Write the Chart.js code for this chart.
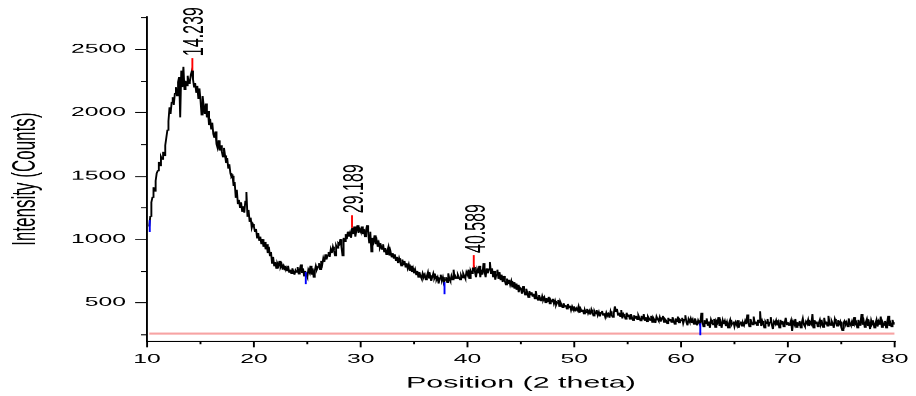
<!DOCTYPE html>
<html>
<head>
<meta charset="utf-8">
<script src="https://cdn.jsdelivr.net/npm/chart.js@4.4.0/dist/chart.umd.min.js"></script>
<style>
  html, body { margin: 0; padding: 0; background: #fff; overflow: hidden; }
  #xrd { display: block; width: 916px; height: 396px; }
</style>
</head>
<body>
<canvas id="xrd" width="482" height="396" style="width:916px;height:396px"></canvas>
<script>
// scan: 2theta from 10.2 to 80.0, step 0.1 deg
const scanStart = 10.2;
const scanStep = 0.1;

// counts, one row per degree
const intensityCounts = [
  1100, 1180, 1290, 1330, 1410, 1380, 1460, 1520,
  1540, 1610, 1580, 1650, 1630, 1690, 1660, 1740, 1800, 1860,
  1930, 2040, 1990, 2080, 2120, 2060, 2150, 2200, 2130, 2240,
  2280, 1960, 2330, 2200, 2360, 2180, 2250, 2210, 2290, 2230,
  2240, 2300, 2330, 2260, 2200, 2230, 2160, 2210, 2110, 2190,
  2100, 1980, 2130, 2050, 1990, 2070, 1960, 2010, 1900, 1950,
  1870, 1920, 1830, 1800, 1850, 1750, 1720, 1780, 1700, 1740,
  1690, 1650, 1720, 1660, 1600, 1640, 1560, 1590, 1520, 1490,
  1500, 1420, 1450, 1330, 1390, 1280, 1310, 1250, 1290, 1220,
  1260, 1210, 1300, 1370, 1180, 1230, 1140, 1170, 1090, 1120,
  1100, 1060, 1080, 1010, 1050, 990, 1020, 960, 1000, 940,
  980, 920, 960, 890, 940, 870, 900, 810, 860, 790,
  820, 770, 810, 790, 830, 780, 800, 760, 790, 770,
  780, 750, 790, 740, 760, 730, 770, 745, 720, 755,
  740, 780, 725, 760, 800, 735, 770, 710, 750, 720,
  700, 760, 740, 790, 720, 770, 700, 750, 790, 760,
  780, 810, 760, 830, 800, 850, 820, 880, 840, 870,
  900, 860, 920, 890, 940, 910, 870, 950, 930, 970,
  960, 1000, 940, 870, 1010, 980, 1040, 1000, 1060, 1020,
  1050, 1010, 1090, 1040, 1100, 1020, 1070, 1110, 1050, 1080,
  1060, 1100, 1040, 1080, 1020, 1070, 1110, 1050, 970, 1060,
  900, 1010, 980, 1030, 960, 990, 940, 970, 930, 950,
  920, 960, 900, 930, 880, 910, 940, 870, 900, 860,
  890, 850, 880, 830, 860, 810, 850, 820, 790, 840,
  800, 830, 780, 810, 770, 800, 750, 790, 740, 770,
  730, 760, 720, 750, 700, 740, 710, 690, 730, 700,
  720, 680, 710, 740, 690, 715, 670, 700, 730, 690,
  710, 680, 700, 650, 690, 720, 670, 700, 660, 680,
  700, 660, 730, 690, 670, 710, 680, 760, 690, 705,
  690, 720, 700, 680, 715, 695, 730, 710, 690, 740,
  720, 760, 690, 750, 730, 770, 780, 740, 700, 760,
  730, 790, 700, 760, 720, 810, 740, 700, 770, 730,
  760, 820, 730, 770, 700, 750, 680, 720, 760, 690,
  740, 680, 720, 660, 710, 670, 640, 690, 650, 680,
  640, 670, 620, 660, 610, 650, 600, 640, 580, 620,
  610, 570, 630, 590, 560, 610, 580, 540, 590, 560,
  580, 550, 570, 530, 590, 545, 520, 560, 535, 510,
  550, 520, 540, 500, 535, 510, 545, 490, 520, 505,
  530, 490, 515, 480, 500, 520, 470, 505, 485, 460,
  495, 470, 480, 450, 490, 460, 475, 440, 470, 450,
  460, 430, 455, 440, 470, 420, 450, 430, 445, 410,
  440, 420, 450, 415, 435, 405, 445, 420, 395, 430,
  410, 440, 400, 425, 390, 420, 435, 400, 415, 385,
  420, 395, 410, 380, 430, 400, 385, 415, 470, 430,
  450, 400, 420, 390, 440, 375, 410, 395, 370, 420,
  390, 405, 370, 410, 385, 360, 400, 375, 395, 365,
  400, 380, 355, 395, 370, 410, 360, 385, 350, 390,
  375, 360, 395, 345, 380, 365, 340, 390, 370, 355,
  385, 350, 375, 395, 345, 370, 360, 335, 380, 355,
  370, 345, 385, 360, 330, 375, 350, 390, 340, 365,
  355, 380, 335, 365, 400, 345, 320, 370, 350, 375,
  340, 365, 330, 375, 350, 320, 360, 340, 335, 420,
  345, 310, 360, 335, 375, 320, 350, 300, 365, 340,
  325, 370, 305, 355, 340, 385, 315, 345, 300, 360,
  330, 355, 315, 345, 300, 340, 365, 320, 335, 350,
  310, 345, 325, 360, 300, 335, 350, 315, 340, 320,
  355, 330, 405, 340, 310, 370, 345, 325, 390, 335,
  350, 320, 365, 340, 430, 315, 355, 330, 300, 350,
  335, 370, 310, 345, 385, 325, 290, 350, 335, 360,
  320, 345, 300, 365, 330, 355, 310, 340, 380, 325,
  345, 320, 335, 360, 275, 350, 330, 370, 305, 345,
  320, 355, 300, 340, 375, 325, 310, 350, 335, 365,
  315, 345, 330, 410, 300, 360, 335, 350, 310, 340,
  365, 325, 345, 305, 380, 330, 350, 315, 395, 340,
  320, 355, 335, 300, 370, 345, 315, 360, 330, 350,
  305, 280, 340, 355, 325, 345, 310, 375, 335, 320,
  350, 315, 385, 330, 345, 300, 365, 320, 340, 410,
  325, 355, 305, 345, 370, 315, 340, 290, 360, 330,
  345, 300, 335, 365, 310, 350, 325, 390, 305, 340,
  320, 355, 300, 345, 395, 315, 340, 310, 365, 330,
  345
];

// labelled peaks (red marks) and picked minima (blue marks)
const peakPos = [14.239, 29.189, 40.589];
const peakCounts = [2330, 1090, 776];
const dipPos = [10.25, 24.86, 37.85, 61.8];
const dipCounts = [1150, 740, 660, 337];

// background level line
const baseStart = 10.2;
const baseEnd = 80;
const baseLevel = 255;

// axes: every tick position, labels only on the long ones
const xMin = 10, xMax = 80;
const xTicks = [10, 15, 20, 25, 30, 35, 40, 45, 50, 55, 60, 65, 70, 75, 80];
const xLabelled = [10, 20, 30, 40, 50, 60, 70, 80];
const yMin = 194.5, yMax = 2752.6;
const yTicks = [250, 500, 750, 1000, 1250, 1500, 1750, 2000, 2250, 2500, 2750];
const yLabelled = [500, 1000, 1500, 2000, 2500];

const scan = intensityCounts.map((c, i) => ({ x: +(scanStart + i * scanStep).toFixed(2), y: c }));
const baseline = [{ x: baseStart, y: baseLevel }, { x: baseEnd, y: baseLevel }];

Chart.defaults.font.family = "'Liberation Sans', Arial, sans-serif";
Chart.defaults.color = "#000";

// Origin style ticks: long at labelled values, short in between
const tickMarks = {
    id: "tickMarks",
    afterDraw(chart) {
        const ctx = chart.ctx;
        const xs = chart.scales.x;
        const ys = chart.scales.y;
        ctx.save();
        ctx.strokeStyle = "#000";
        ctx.lineWidth = 1;
        ctx.beginPath();
        xs.ticks.forEach((t) => {
            const px = xs.getPixelForValue(t.value);
            const len = xLabelled.includes(t.value) ? 6 : 3;
            ctx.moveTo(px, xs.top);
            ctx.lineTo(px, xs.top + len);
        });
        ys.ticks.forEach((t) => {
            const py = Math.round(ys.getPixelForValue(t.value)) + 0.5;
            const len = yLabelled.includes(t.value) ? 6.3 : 3.2;
            ctx.moveTo(ys.right, py);
            ctx.lineTo(ys.right - len, py);
        });
        ctx.stroke();
        ctx.restore();
    }
};

// peak position labels + marker lines
const peakMarks = {
    id: "peakMarks",
    afterDatasetsDraw(chart) {
        const ctx = chart.ctx;
        const xs = chart.scales.x;
        const ys = chart.scales.y;
        const fontSize = 16;
        ctx.save();
        ctx.lineWidth = 1;
        peakPos.forEach((p, i) => {
            const px = xs.getPixelForValue(p);
            const py = ys.getPixelForValue(peakCounts[i]);
            ctx.strokeStyle = "#ff0000";
            ctx.beginPath();
            ctx.moveTo(px, py);
            ctx.lineTo(px, py - 12.5);
            ctx.stroke();

            ctx.save();
            ctx.translate(px, py - 14.5);
            ctx.rotate(-Math.PI / 2);
            ctx.fillStyle = "#000";
            ctx.font = fontSize + "px 'Liberation Sans', Arial, sans-serif";
            ctx.textAlign = "left";
            ctx.textBaseline = "alphabetic";
            ctx.fillText(p.toFixed(3), 0, fontSize * 0.358);
            ctx.restore();
        });
        ctx.strokeStyle = "#0000ff";
        dipPos.forEach((p, i) => {
            const px = xs.getPixelForValue(p);
            const py = ys.getPixelForValue(dipCounts[i]);
            ctx.beginPath();
            ctx.moveTo(px, py);
            ctx.lineTo(px, py + 12);
            ctx.stroke();
        });
        ctx.restore();
    }
};

new Chart(document.getElementById("xrd"), {
    type: "line",
    data: {
        datasets: [
            {
                data: scan,
                borderColor: "#000",
                borderWidth: 1,
                pointRadius: 0,
                tension: 0
            },
            {
                data: baseline,
                borderColor: "#f7a3a3",
                borderWidth: 2,
                pointRadius: 0
            }
        ]
    },
    options: {
        responsive: false,
        devicePixelRatio: 916 / 482,   // stretched horizontally like the exported figure
        animation: false,
        events: [],
        layout: { padding: { top: 17, right: 7.8, left: 0, bottom: 0 } },
        plugins: {
            legend: { display: false },
            tooltip: { enabled: false }
        },
        scales: {
            x: {
                type: "linear",
                min: xMin,
                max: xMax,
                afterFit: (s) => { s.height = 55; },
                afterBuildTicks: (s) => { s.ticks = xTicks.map((v) => ({ value: v })); },
                border: { display: true, color: "#000", width: 1 },
                grid: { display: false, drawTicks: true, tickLength: 6 },
                ticks: {
                    autoSkip: false,
                    maxRotation: 0,
                    padding: 4,
                    font: { size: 13 },
                    callback: (v) => (xLabelled.includes(v) ? String(v) : "")
                },
                title: {
                    display: true,
                    text: "Position (2 theta)",
                    font: { size: 16 },
                    padding: { top: 0, bottom: 3.4 }
                }
            },
            y: {
                min: yMin,
                max: yMax,
                afterFit: (s) => { s.width = 77.4; },
                afterBuildTicks: (s) => { s.ticks = yTicks.map((v) => ({ value: v })); },
                border: { display: true, color: "#000", width: 1 },
                grid: { display: false, drawTicks: true, tickLength: 6.3 },
                ticks: {
                    autoSkip: false,
                    padding: 4.8,
                    font: { size: 13 },
                    callback: (v) => (yLabelled.includes(v) ? String(v) : "")
                },
                title: {
                    display: true,
                    text: "Intensity (Counts)",
                    font: { size: 17 },
                    padding: { top: 3.6, bottom: 0 }
                }
            }
        }
    },
    plugins: [tickMarks, peakMarks]
});
</script>
</body>
</html>
